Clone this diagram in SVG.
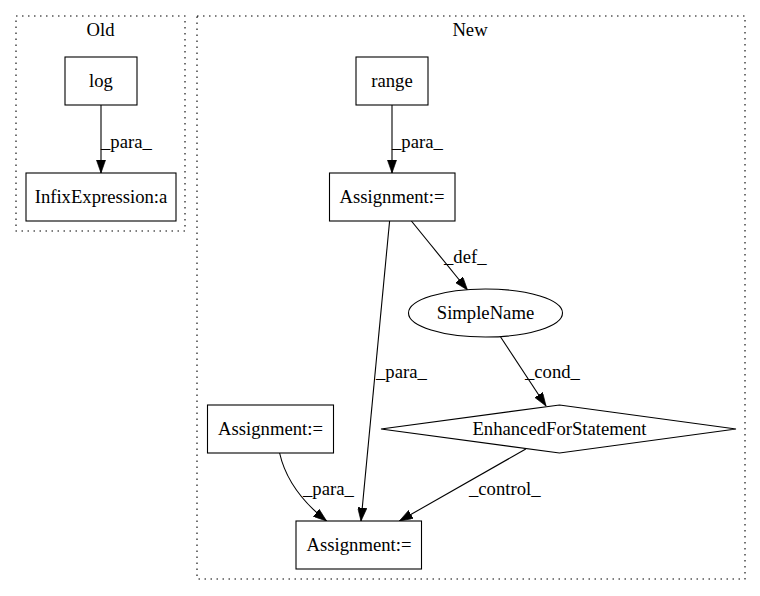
<svg xmlns="http://www.w3.org/2000/svg" width="760" height="596" viewBox="0 0 760 596">
<style>
text{font-family:"Liberation Serif","Times New Roman",serif;font-size:18.67px;fill:#000}
.n{fill:#fff;stroke:#000;stroke-width:1.1}
.c{fill:none;stroke:#000;stroke-width:1.1;stroke-dasharray:1.5,4.5}
.e{fill:none;stroke:#000;stroke-width:1.1;marker-end:url(#a)}
.m{text-anchor:middle}
</style>
<defs>
<marker id="a" markerUnits="userSpaceOnUse" viewBox="0 0 10 7" refX="10" refY="3.5" markerWidth="13.3" markerHeight="9.3" orient="auto">
<path d="M0,0 L10,3.5 L0,7 z" fill="#000" stroke="#000" stroke-width="0.5"/>
</marker>
</defs>
<rect width="760" height="596" fill="#fff"/>
<g id="cluster_old">
<rect class="c" x="16" y="16" width="169" height="215"/>
<text class="m" x="100.5" y="36">Old</text>
</g>
<g id="cluster_new">
<rect class="c" x="197" y="16" width="548" height="563"/>
<text class="m" x="470" y="36">New</text>
</g>
<g id="edges">
<path class="e" d="M101,105 L101,173"/>
<text x="101" y="148">_para_</text>
<path class="e" d="M392,105 L392,173"/>
<text x="392" y="148">_para_</text>
<path class="e" d="M411.4,221 L467.5,290"/>
<text x="444" y="263">_def_</text>
<path class="e" d="M389.6,221 L361,521"/>
<text x="376" y="378">_para_</text>
<path class="e" d="M500.6,337 L546,406"/>
<text x="525" y="378">_cond_</text>
<path class="e" d="M279.6,453 C285,477 300,500 326.6,521"/>
<text x="303" y="495">_para_</text>
<path class="e" d="M525.8,449 L399.4,521"/>
<text x="469" y="495">_control_</text>
</g>
<g id="log">
<rect class="n" x="65" y="57" width="72" height="48"/>
<text class="m" x="101" y="87">log</text>
</g>
<g id="infix">
<rect class="n" x="26" y="173" width="150" height="48"/>
<text class="m" x="101" y="203">InfixExpression:a</text>
</g>
<g id="range">
<rect class="n" x="356" y="57" width="72" height="48"/>
<text class="m" x="392" y="87">range</text>
</g>
<g id="assign1">
<rect class="n" x="329.5" y="173" width="125.5" height="48"/>
<text class="m" x="392" y="203">Assignment:=</text>
</g>
<g id="simplename">
<ellipse class="n" cx="485.5" cy="313" rx="77" ry="24"/>
<text class="m" x="485.5" y="319">SimpleName</text>
</g>
<g id="efs">
<polygon class="n" points="559.5,405 736,429 559.5,453 381,429"/>
<text class="m" x="559.5" y="435">EnhancedForStatement</text>
</g>
<g id="assign2">
<rect class="n" x="207.5" y="405" width="126" height="48"/>
<text class="m" x="270.5" y="435">Assignment:=</text>
</g>
<g id="assign3">
<rect class="n" x="296" y="521" width="125.5" height="48"/>
<text class="m" x="359" y="551">Assignment:=</text>
</g>
</svg>
